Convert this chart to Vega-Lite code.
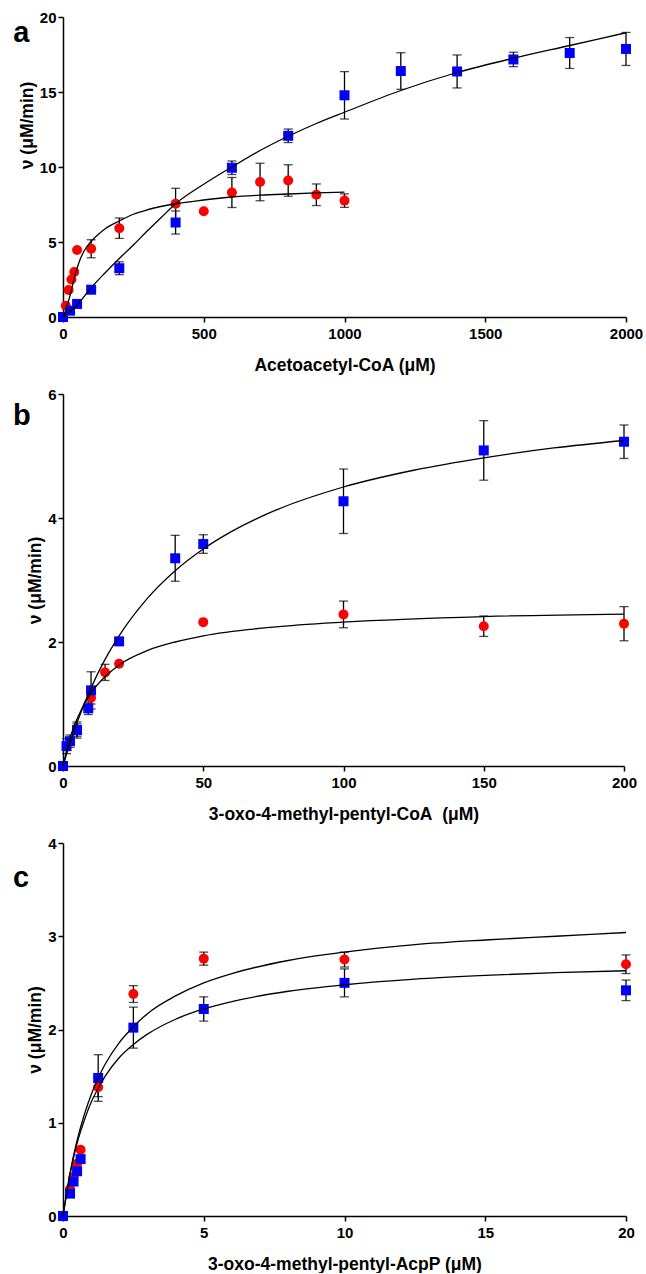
{
  "$schema": "https://vega.github.io/schema/vega-lite/v6.json",
  "background": "white",
  "padding": {"left": 12, "top": 10, "right": 5, "bottom": 0},
  "columns": 1,
  "align": "none",
  "spacing": 13,
  "datasets": {
    "a_pts": [
      {"enzyme": "E2", "x": 10, "v": 0.75, "err": 0},
      {"enzyme": "E2", "x": 20, "v": 1.8, "err": 0},
      {"enzyme": "E2", "x": 30, "v": 2.5, "err": 0},
      {"enzyme": "E2", "x": 40, "v": 3.0, "err": 0},
      {"enzyme": "E2", "x": 50, "v": 4.47, "err": 0},
      {"enzyme": "E2", "x": 100, "v": 4.55, "err": 0.6},
      {"enzyme": "E2", "x": 200, "v": 5.92, "err": 0.68},
      {"enzyme": "E2", "x": 400, "v": 7.55, "err": 1.03},
      {"enzyme": "E2", "x": 500, "v": 7.05, "err": 0},
      {"enzyme": "E2", "x": 600, "v": 8.3, "err": 1.0},
      {"enzyme": "E2", "x": 700, "v": 9.0, "err": 1.25},
      {"enzyme": "E2", "x": 800, "v": 9.1, "err": 1.05},
      {"enzyme": "E2", "x": 900, "v": 8.15, "err": 0.72},
      {"enzyme": "E2", "x": 1000, "v": 7.76, "err": 0.45},
      {"enzyme": "E1", "x": 0, "v": 0, "err": 0},
      {"enzyme": "E1", "x": 25, "v": 0.42, "err": 0},
      {"enzyme": "E1", "x": 50, "v": 0.87, "err": 0},
      {"enzyme": "E1", "x": 100, "v": 1.82, "err": 0},
      {"enzyme": "E1", "x": 200, "v": 3.25, "err": 0.43},
      {"enzyme": "E1", "x": 400, "v": 6.3, "err": 0.77},
      {"enzyme": "E1", "x": 600, "v": 9.95, "err": 0.45},
      {"enzyme": "E1", "x": 800, "v": 12.08, "err": 0.45},
      {"enzyme": "E1", "x": 1000, "v": 14.78, "err": 1.58},
      {"enzyme": "E1", "x": 1200, "v": 16.4, "err": 1.22},
      {"enzyme": "E1", "x": 1400, "v": 16.37, "err": 1.1},
      {"enzyme": "E1", "x": 1600, "v": 17.17, "err": 0.48},
      {"enzyme": "E1", "x": 1800, "v": 17.6, "err": 1.03},
      {"enzyme": "E1", "x": 2000, "v": 17.87, "err": 1.1}
    ],
    "a_fit": [
      {"enzyme": "E2", "x": 0, "v": 0},
      {"enzyme": "E2", "x": 10, "v": 0.45},
      {"enzyme": "E2", "x": 20, "v": 1.1},
      {"enzyme": "E2", "x": 30, "v": 1.8},
      {"enzyme": "E2", "x": 40, "v": 2.6},
      {"enzyme": "E2", "x": 50, "v": 3.25},
      {"enzyme": "E2", "x": 60, "v": 3.8},
      {"enzyme": "E2", "x": 75, "v": 4.4},
      {"enzyme": "E2", "x": 100, "v": 5.05},
      {"enzyme": "E2", "x": 125, "v": 5.5},
      {"enzyme": "E2", "x": 150, "v": 5.88},
      {"enzyme": "E2", "x": 200, "v": 6.4},
      {"enzyme": "E2", "x": 250, "v": 6.85},
      {"enzyme": "E2", "x": 300, "v": 7.15},
      {"enzyme": "E2", "x": 400, "v": 7.55},
      {"enzyme": "E2", "x": 500, "v": 7.8},
      {"enzyme": "E2", "x": 600, "v": 8.0},
      {"enzyme": "E2", "x": 700, "v": 8.12},
      {"enzyme": "E2", "x": 800, "v": 8.2},
      {"enzyme": "E2", "x": 900, "v": 8.27},
      {"enzyme": "E2", "x": 1000, "v": 8.33},
      {"enzyme": "E1", "x": 0, "v": 0},
      {"enzyme": "E1", "x": 25, "v": 0.38},
      {"enzyme": "E1", "x": 50, "v": 0.8},
      {"enzyme": "E1", "x": 100, "v": 1.95},
      {"enzyme": "E1", "x": 150, "v": 2.95},
      {"enzyme": "E1", "x": 200, "v": 3.9},
      {"enzyme": "E1", "x": 250, "v": 4.8},
      {"enzyme": "E1", "x": 300, "v": 5.75},
      {"enzyme": "E1", "x": 350, "v": 6.65},
      {"enzyme": "E1", "x": 400, "v": 7.55},
      {"enzyme": "E1", "x": 500, "v": 8.85},
      {"enzyme": "E1", "x": 600, "v": 10.0},
      {"enzyme": "E1", "x": 700, "v": 11.1},
      {"enzyme": "E1", "x": 800, "v": 12.05},
      {"enzyme": "E1", "x": 900, "v": 12.9},
      {"enzyme": "E1", "x": 1000, "v": 13.65},
      {"enzyme": "E1", "x": 1200, "v": 15.1},
      {"enzyme": "E1", "x": 1400, "v": 16.3},
      {"enzyme": "E1", "x": 1600, "v": 17.25},
      {"enzyme": "E1", "x": 1800, "v": 18.1},
      {"enzyme": "E1", "x": 2000, "v": 18.95}
    ],
    "b_pts": [
      {"enzyme": "E2", "x": 5, "v": 0.58, "err": 0.1},
      {"enzyme": "E2", "x": 10, "v": 1.1, "err": 0.1},
      {"enzyme": "E2", "x": 15, "v": 1.51, "err": 0.13},
      {"enzyme": "E2", "x": 20, "v": 1.65, "err": 0},
      {"enzyme": "E2", "x": 50, "v": 2.32, "err": 0},
      {"enzyme": "E2", "x": 100, "v": 2.445, "err": 0.215},
      {"enzyme": "E2", "x": 150, "v": 2.255, "err": 0.165},
      {"enzyme": "E2", "x": 200, "v": 2.295, "err": 0.275},
      {"enzyme": "E1", "x": 0, "v": 0, "err": 0},
      {"enzyme": "E1", "x": 1.25, "v": 0.32, "err": 0.12},
      {"enzyme": "E1", "x": 2.5, "v": 0.4, "err": 0.1},
      {"enzyme": "E1", "x": 5, "v": 0.58, "err": 0.13},
      {"enzyme": "E1", "x": 9, "v": 0.93, "err": 0.1},
      {"enzyme": "E1", "x": 10, "v": 1.22, "err": 0.3},
      {"enzyme": "E1", "x": 20, "v": 2.01, "err": 0},
      {"enzyme": "E1", "x": 40, "v": 3.35, "err": 0.37},
      {"enzyme": "E1", "x": 50, "v": 3.58, "err": 0.15},
      {"enzyme": "E1", "x": 100, "v": 4.27, "err": 0.52},
      {"enzyme": "E1", "x": 150, "v": 5.09, "err": 0.48},
      {"enzyme": "E1", "x": 200, "v": 5.23, "err": 0.27}
    ],
    "b_fit": [
      {"enzyme": "E2", "x": 0, "v": 0},
      {"enzyme": "E2", "x": 2.5, "v": 0.45},
      {"enzyme": "E2", "x": 5, "v": 0.76},
      {"enzyme": "E2", "x": 10, "v": 1.18},
      {"enzyme": "E2", "x": 15, "v": 1.44},
      {"enzyme": "E2", "x": 20, "v": 1.63},
      {"enzyme": "E2", "x": 30, "v": 1.86},
      {"enzyme": "E2", "x": 40, "v": 2.0},
      {"enzyme": "E2", "x": 50, "v": 2.1},
      {"enzyme": "E2", "x": 75, "v": 2.24},
      {"enzyme": "E2", "x": 100, "v": 2.32},
      {"enzyme": "E2", "x": 150, "v": 2.41},
      {"enzyme": "E2", "x": 200, "v": 2.45},
      {"enzyme": "E1", "x": 0, "v": 0},
      {"enzyme": "E1", "x": 2.5, "v": 0.37},
      {"enzyme": "E1", "x": 5, "v": 0.7},
      {"enzyme": "E1", "x": 10, "v": 1.26},
      {"enzyme": "E1", "x": 15, "v": 1.72},
      {"enzyme": "E1", "x": 20, "v": 2.1},
      {"enzyme": "E1", "x": 30, "v": 2.7},
      {"enzyme": "E1", "x": 40, "v": 3.15},
      {"enzyme": "E1", "x": 50, "v": 3.5},
      {"enzyme": "E1", "x": 60, "v": 3.78},
      {"enzyme": "E1", "x": 75, "v": 4.11},
      {"enzyme": "E1", "x": 100, "v": 4.5},
      {"enzyme": "E1", "x": 125, "v": 4.77},
      {"enzyme": "E1", "x": 150, "v": 4.97},
      {"enzyme": "E1", "x": 175, "v": 5.13},
      {"enzyme": "E1", "x": 200, "v": 5.25}
    ],
    "c_pts": [
      {"enzyme": "E2", "x": 0.25, "v": 0.29, "err": 0},
      {"enzyme": "E2", "x": 0.375, "v": 0.42, "err": 0},
      {"enzyme": "E2", "x": 0.5, "v": 0.56, "err": 0},
      {"enzyme": "E2", "x": 0.625, "v": 0.71, "err": 0},
      {"enzyme": "E2", "x": 1.25, "v": 1.38, "err": 0.1},
      {"enzyme": "E2", "x": 2.5, "v": 2.38, "err": 0.09},
      {"enzyme": "E2", "x": 5, "v": 2.76, "err": 0.07},
      {"enzyme": "E2", "x": 10, "v": 2.75, "err": 0.08},
      {"enzyme": "E2", "x": 20, "v": 2.7, "err": 0.1},
      {"enzyme": "E1", "x": 0, "v": 0, "err": 0},
      {"enzyme": "E1", "x": 0.25, "v": 0.24, "err": 0},
      {"enzyme": "E1", "x": 0.375, "v": 0.37, "err": 0},
      {"enzyme": "E1", "x": 0.5, "v": 0.48, "err": 0},
      {"enzyme": "E1", "x": 0.625, "v": 0.61, "err": 0},
      {"enzyme": "E1", "x": 1.25, "v": 1.48, "err": 0.25},
      {"enzyme": "E1", "x": 2.5, "v": 2.02, "err": 0.22},
      {"enzyme": "E1", "x": 5, "v": 2.22, "err": 0.13},
      {"enzyme": "E1", "x": 10, "v": 2.5, "err": 0.15},
      {"enzyme": "E1", "x": 20, "v": 2.42, "err": 0.11}
    ],
    "c_fit": [
      {"enzyme": "E2", "x": 0, "v": 0},
      {"enzyme": "E2", "x": 0.25, "v": 0.46},
      {"enzyme": "E2", "x": 0.5, "v": 0.81},
      {"enzyme": "E2", "x": 0.75, "v": 1.08},
      {"enzyme": "E2", "x": 1, "v": 1.3},
      {"enzyme": "E2", "x": 1.25, "v": 1.48},
      {"enzyme": "E2", "x": 1.5, "v": 1.63},
      {"enzyme": "E2", "x": 2, "v": 1.86},
      {"enzyme": "E2", "x": 2.5, "v": 2.03},
      {"enzyme": "E2", "x": 3, "v": 2.17},
      {"enzyme": "E2", "x": 4, "v": 2.36},
      {"enzyme": "E2", "x": 5, "v": 2.5},
      {"enzyme": "E2", "x": 6, "v": 2.6},
      {"enzyme": "E2", "x": 8, "v": 2.74},
      {"enzyme": "E2", "x": 10, "v": 2.83},
      {"enzyme": "E2", "x": 12.5, "v": 2.91},
      {"enzyme": "E2", "x": 15, "v": 2.96},
      {"enzyme": "E2", "x": 17.5, "v": 3.0},
      {"enzyme": "E2", "x": 20, "v": 3.04},
      {"enzyme": "E1", "x": 0, "v": 0},
      {"enzyme": "E1", "x": 0.25, "v": 0.45},
      {"enzyme": "E1", "x": 0.5, "v": 0.78},
      {"enzyme": "E1", "x": 0.75, "v": 1.02},
      {"enzyme": "E1", "x": 1, "v": 1.22},
      {"enzyme": "E1", "x": 1.25, "v": 1.37},
      {"enzyme": "E1", "x": 1.5, "v": 1.5},
      {"enzyme": "E1", "x": 2, "v": 1.7},
      {"enzyme": "E1", "x": 2.5, "v": 1.84},
      {"enzyme": "E1", "x": 3, "v": 1.95},
      {"enzyme": "E1", "x": 4, "v": 2.11},
      {"enzyme": "E1", "x": 5, "v": 2.22},
      {"enzyme": "E1", "x": 6, "v": 2.3},
      {"enzyme": "E1", "x": 8, "v": 2.41},
      {"enzyme": "E1", "x": 10, "v": 2.48},
      {"enzyme": "E1", "x": 12.5, "v": 2.54},
      {"enzyme": "E1", "x": 15, "v": 2.58},
      {"enzyme": "E1", "x": 17.5, "v": 2.61},
      {"enzyme": "E1", "x": 20, "v": 2.63}
    ]
  },
  "concat": [
    {
      "width": 563,
      "height": 300,
      "layer": [
        {"data": {"name": "a_pts"}, "transform": [{"filter": "datum.err > 0"}], "mark": {"type": "errorbar", "ticks": {"size": 9, "thickness": 1.3, "color": "black"}, "rule": {"color": "black", "strokeWidth": 1.3}},
         "encoding": {
           "x": {"field": "x", "type": "quantitative", "scale": {"domain": [0, 2000], "nice": false}, "axis": {"values": [0, 500, 1000, 1500, 2000], "title": "Acetoacetyl-CoA (μM)"}},
           "y": {"field": "v", "type": "quantitative", "scale": {"domain": [0, 20], "nice": false}, "axis": {"values": [0, 5, 10, 15, 20], "title": "ν (μM/min)", "titleY": 108}},
           "yError": {"field": "err"}}},
        {"data": {"name": "a_pts"}, "mark": {"type": "point", "filled": true, "opacity": 1, "size": 100},
         "encoding": {
           "x": {"field": "x", "type": "quantitative"},
           "y": {"field": "v", "type": "quantitative"},
           "color": {"field": "enzyme", "type": "nominal", "scale": {"domain": ["E1", "E2"], "range": ["#0000ff", "#ff0000"]}, "legend": null}, "shape": {"field": "enzyme", "type": "nominal", "scale": {"domain": ["E1", "E2"], "range": ["square", "circle"]}, "legend": null}}},
        {"data": {"name": "a_fit"}, "mark": {"type": "line", "color": "black", "strokeWidth": 1.3, "interpolate": "monotone"},
         "encoding": {
           "x": {"field": "x", "type": "quantitative"},
           "y": {"field": "v", "type": "quantitative"},
           "detail": {"field": "enzyme", "type": "nominal"}}},
        {"data": {"values": [{"panel": "a"}]}, "mark": {"type": "text", "clip": false, "align": "left", "baseline": "alphabetic", "fontSize": 29, "fontWeight": "bold", "font": "Liberation Sans", "color": "black"},
         "encoding": {"text": {"field": "panel", "type": "nominal"}, "x": {"datum": -177, "type": "quantitative"}, "y": {"datum": 18.33, "type": "quantitative"}}}
      ]
    },
    {
      "width": 561,
      "height": 372,
      "layer": [
        {"data": {"name": "b_pts"}, "transform": [{"filter": "datum.err > 0"}], "mark": {"type": "errorbar", "ticks": {"size": 9, "thickness": 1.3, "color": "black"}, "rule": {"color": "black", "strokeWidth": 1.3}},
         "encoding": {
           "x": {"field": "x", "type": "quantitative", "scale": {"domain": [0, 200], "nice": false}, "axis": {"values": [0, 50, 100, 150, 200], "title": "3-oxo-4-methyl-pentyl-CoA\u00a0 (μM)"}},
           "y": {"field": "v", "type": "quantitative", "scale": {"domain": [0, 6], "nice": false}, "axis": {"values": [0, 2, 4, 6], "title": "ν (μM/min)"}},
           "yError": {"field": "err"}}},
        {"data": {"name": "b_pts"}, "mark": {"type": "point", "filled": true, "opacity": 1, "size": 100},
         "encoding": {
           "x": {"field": "x", "type": "quantitative"},
           "y": {"field": "v", "type": "quantitative"},
           "color": {"field": "enzyme", "type": "nominal", "scale": {"domain": ["E1", "E2"], "range": ["#0000ff", "#ff0000"]}, "legend": null}, "shape": {"field": "enzyme", "type": "nominal", "scale": {"domain": ["E1", "E2"], "range": ["square", "circle"]}, "legend": null}}},
        {"data": {"name": "b_fit"}, "mark": {"type": "line", "color": "black", "strokeWidth": 1.3, "interpolate": "monotone"},
         "encoding": {
           "x": {"field": "x", "type": "quantitative"},
           "y": {"field": "v", "type": "quantitative"},
           "detail": {"field": "enzyme", "type": "nominal"}}},
        {"data": {"values": [{"panel": "b"}]}, "mark": {"type": "text", "clip": false, "align": "left", "baseline": "alphabetic", "fontSize": 29, "fontWeight": "bold", "font": "Liberation Sans", "color": "black"},
         "encoding": {"text": {"field": "panel", "type": "nominal"}, "x": {"datum": -17.8, "type": "quantitative"}, "y": {"datum": 5.5, "type": "quantitative"}}}
      ]
    },
    {
      "width": 563,
      "height": 373,
      "layer": [
        {"data": {"name": "c_pts"}, "transform": [{"filter": "datum.err > 0"}], "mark": {"type": "errorbar", "ticks": {"size": 9, "thickness": 1.3, "color": "black"}, "rule": {"color": "black", "strokeWidth": 1.3}},
         "encoding": {
           "x": {"field": "x", "type": "quantitative", "scale": {"domain": [0, 20], "nice": false}, "axis": {"values": [0, 5, 10, 15, 20], "title": "3-oxo-4-methyl-pentyl-AcpP (μM)"}},
           "y": {"field": "v", "type": "quantitative", "scale": {"domain": [0, 4], "nice": false}, "axis": {"values": [0, 1, 2, 3, 4], "title": "ν (μM/min)"}},
           "yError": {"field": "err"}}},
        {"data": {"name": "c_pts"}, "mark": {"type": "point", "filled": true, "opacity": 1, "size": 100},
         "encoding": {
           "x": {"field": "x", "type": "quantitative"},
           "y": {"field": "v", "type": "quantitative"},
           "color": {"field": "enzyme", "type": "nominal", "scale": {"domain": ["E1", "E2"], "range": ["#0000ff", "#ff0000"]}, "legend": null}, "shape": {"field": "enzyme", "type": "nominal", "scale": {"domain": ["E1", "E2"], "range": ["square", "circle"]}, "legend": null}}},
        {"data": {"name": "c_fit"}, "mark": {"type": "line", "color": "black", "strokeWidth": 1.3, "interpolate": "monotone"},
         "encoding": {
           "x": {"field": "x", "type": "quantitative"},
           "y": {"field": "v", "type": "quantitative"},
           "detail": {"field": "enzyme", "type": "nominal"}}},
        {"data": {"values": [{"panel": "c"}]}, "mark": {"type": "text", "clip": false, "align": "left", "baseline": "alphabetic", "fontSize": 29, "fontWeight": "bold", "font": "Liberation Sans", "color": "black"},
         "encoding": {"text": {"field": "panel", "type": "nominal"}, "x": {"datum": -1.78, "type": "quantitative"}, "y": {"datum": 3.53, "type": "quantitative"}}}
      ]
    }
  ],
  "config": {
    "view": {"stroke": null},
    "axis": {"grid": false, "format": "d", "domainColor": "black", "domainWidth": 1.5, "tickColor": "black", "tickWidth": 1.5, "tickSize": 5, "labelFont": "Liberation Sans", "labelFontSize": 15, "labelFontWeight": "bold", "labelColor": "black", "labelFlush": false, "labelOverlap": false, "titleFont": "Liberation Sans", "titleFontSize": 17.5, "titleFontWeight": "bold", "titleColor": "black"},
    "axisX": {"labelPadding": 4, "titlePadding": 15},
    "axisY": {"labelPadding": 2, "titlePadding": 3}
  }
}
